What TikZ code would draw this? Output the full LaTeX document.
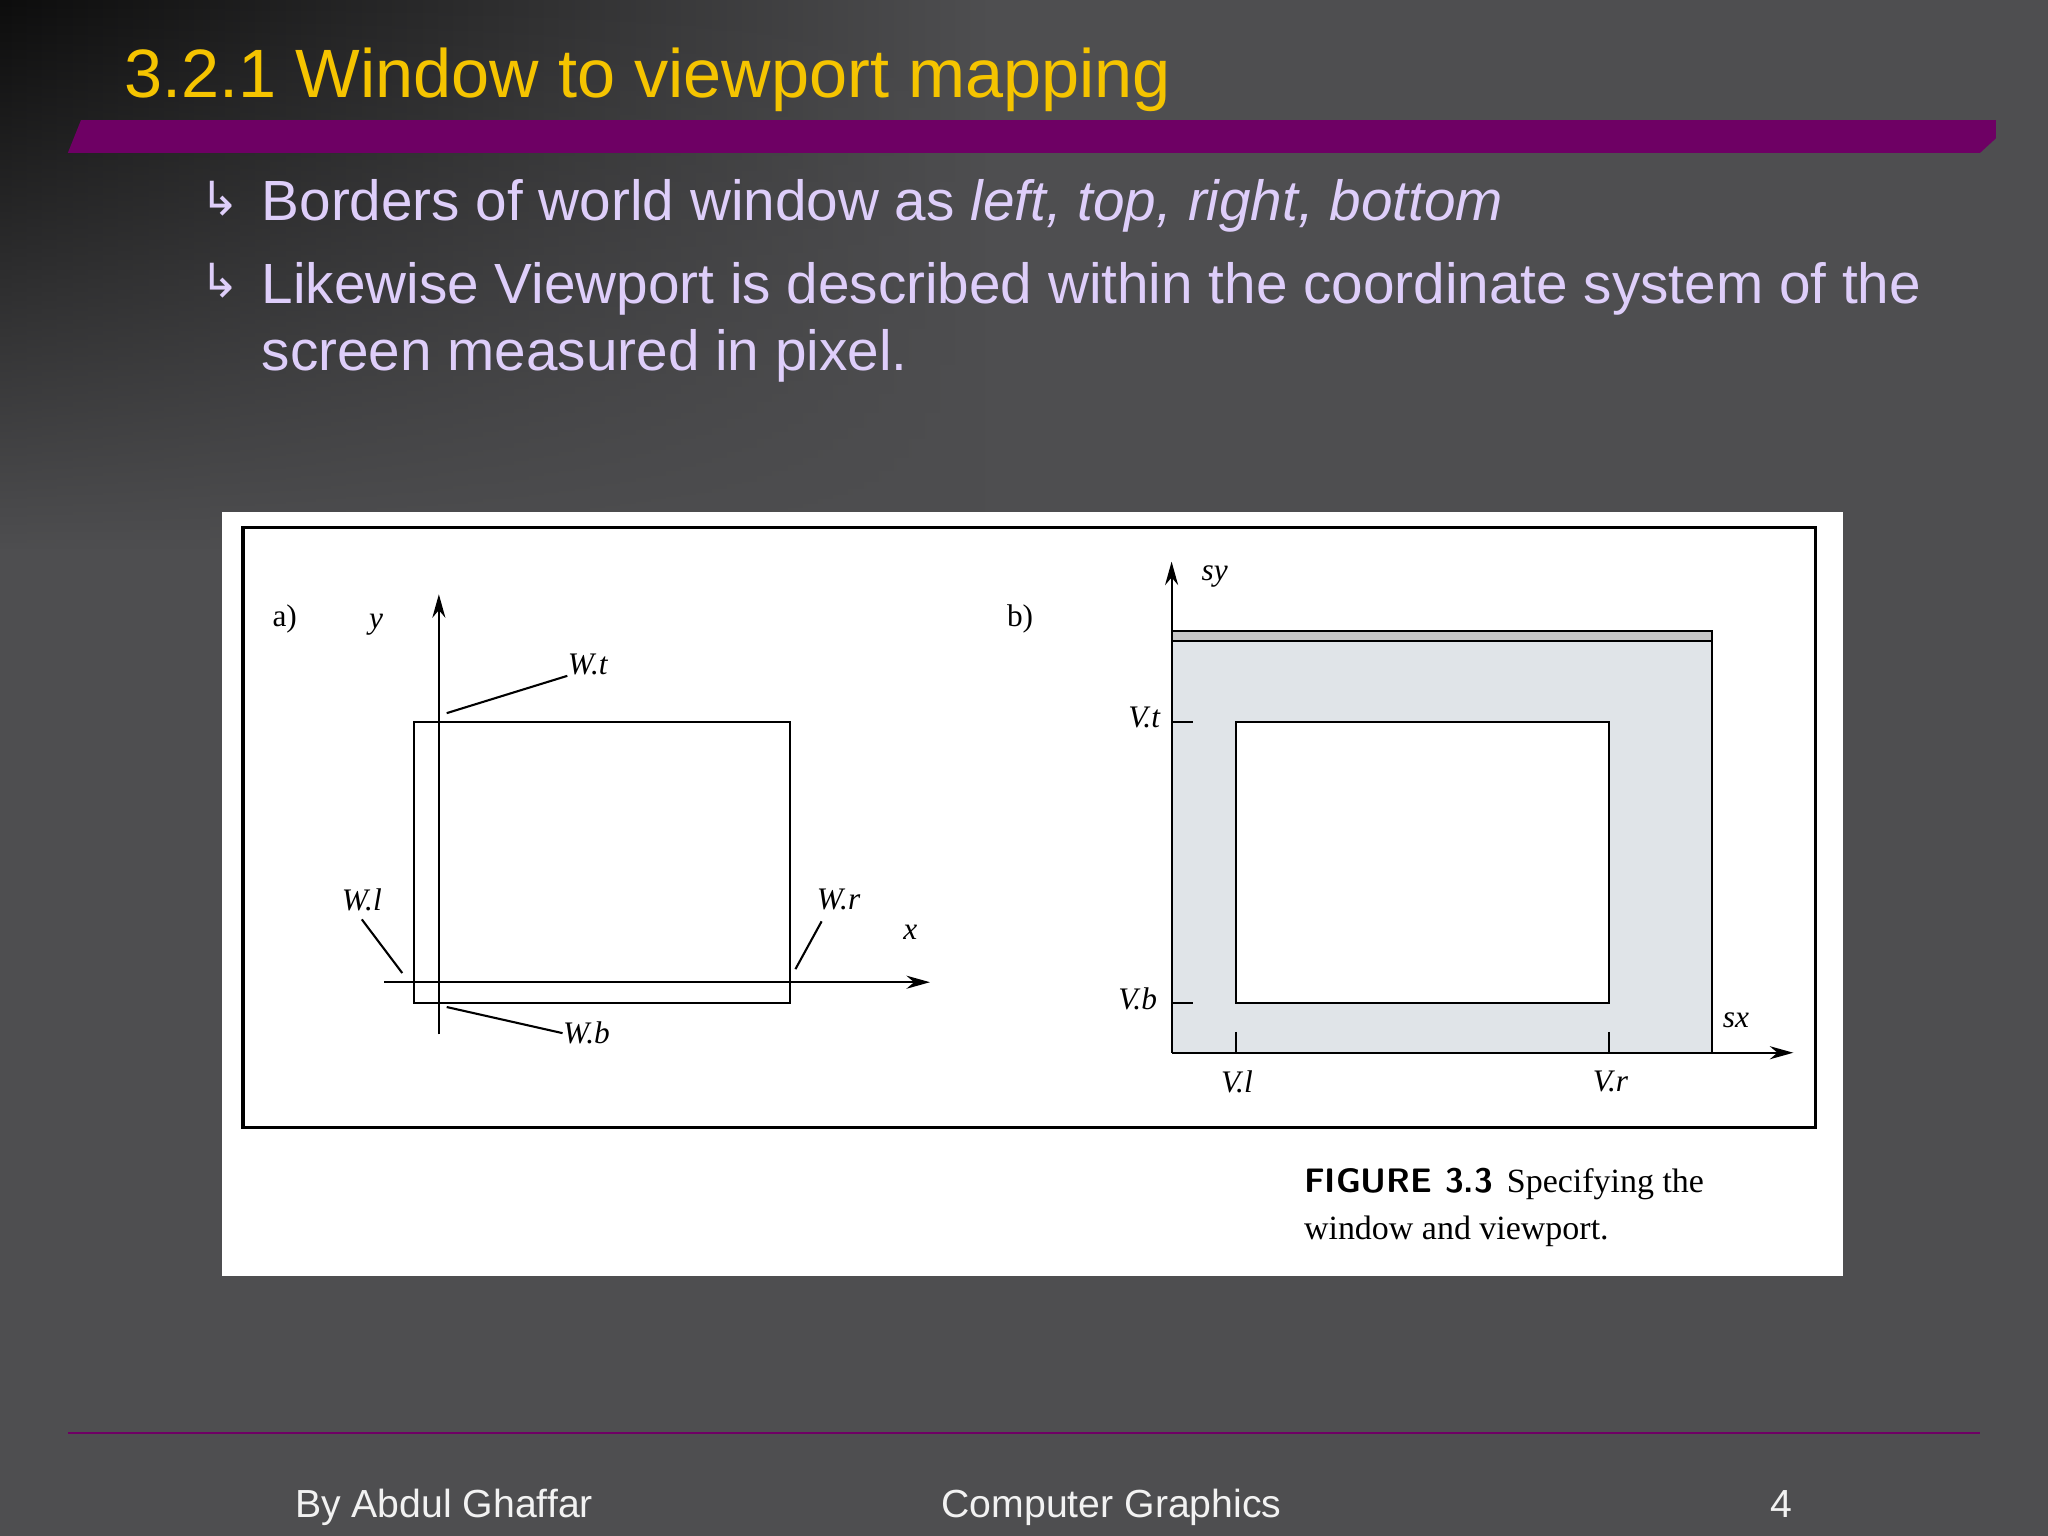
\documentclass[tikz,border=0pt]{standalone}
\usepackage{fontspec}
\setmainfont{Liberation Sans}
\newfontfamily\djv{DejaVu Sans}
\newfontfamily\serf{Liberation Serif}
\usetikzlibrary{fadings,arrows.meta}
\definecolor{bg}{RGB}{78,78,80}
\definecolor{ttl}{RGB}{245,196,0}
\definecolor{lav}{RGB}{222,206,250}
\definecolor{purp}{RGB}{110,0,100}
\definecolor{pgray}{RGB}{224,228,232}
\tikzset{lbl/.style={font=\serf\itshape\fontsize{12}{14}\selectfont,inner sep=0pt},
 ln/.style={line width=0.8pt},
 ax/.style={line width=0.8pt,-{Stealth[length=9pt,width=5pt]}},
 bul/.style={anchor=base west,inner sep=0pt,text=lav,font=\fontsize{21.7}{25}\selectfont},
 foot/.style={anchor=base,inner sep=0pt,text=white!90!gray,font=\fontsize{15}{18}\selectfont}}
\begin{document}
\begin{tikzpicture}[x=0.5pt,y=-0.5pt]
\useasboundingbox (0,0) rectangle (1568,1176);
\fill[bg] (0,0) rectangle (1568,1176);
\shade[left color=black!95,right color=bg,path fading=south] (0,0) rectangle (760,420);
% title
\node[anchor=base west,inner sep=0pt,text=ttl,font=\fontsize{26.2}{30}\selectfont] (title) at (95,75) {3.2.1 Window to viewport mapping};
\fill[purp] (52,117) -- (62,92) -- (1528,92) -- (1528,106) -- (1516,117) -- cycle;
% bullets
\node[bul,font=\djv\fontsize{18}{22}\selectfont] (b1) at (153,165) {↳};
\node[bul] (t1) at (200,169) {Borders of world window as \textit{left, top, right, bottom}};
\node[bul,font=\djv\fontsize{18}{22}\selectfont] (b2) at (153,228) {↳};
\node[bul] (t2) at (200,232) {Likewise Viewport is described within the coordinate system of the};
\node[bul] (t3) at (200,284) {screen measured in pixel.};
% figure panel
\fill[white] (170,392) rectangle (1411,977);
\draw[line width=1.2pt] (186,404) rectangle (1390,863);
% panel a
\node[lbl,font=\serf\fontsize{12}{14}\selectfont] (la) at (218,474) {a)};
\node[lbl] (ly) at (288,478) {y};
\coordinate (yb) at (336,792); \coordinate (yt) at (336,455);
\draw[ax] (yb) -- (yt);
\coordinate (xl) at (294,752); \coordinate (xr) at (712,752);
\draw[ax] (xl) -- (xr);
\node[lbl] (lx) at (697,714) {x};
\draw[ln] (317,553) rectangle (605,768);
\node[lbl] (wt) at (450,509) {W.t};
\node[lbl] (wl) at (277,689) {W.l};
\node[lbl] (wr) at (642,689) {W.r};
\node[lbl] (wb) at (449,791) {W.b};
\coordinate (wt1) at (342,546); \draw[ln] (wt1) -- (wt.south west);
\coordinate (wl1) at (308,745); \draw[ln] (wl.south) ++(0,6) -- (wl1);
\coordinate (wr1) at (609,742); \draw[ln] (wr.south west) ++(4,8) -- (wr1);
\coordinate (wb1) at (342,771); \draw[ln] (wb1) -- (wb.west);
% panel b
\node[lbl,font=\serf\fontsize{12}{14}\selectfont] (lb) at (781,474) {b)};
\fill[pgray] (897,483) rectangle (1311,806);
\fill[gray!45] (897,483) rectangle (1311,491);
\draw[ln] (897,491) -- (1311,491);
\draw[ln] (897,483) -- (1311,483) -- (1311,806);
\draw[ln,fill=white] (946,553) rectangle (1232,768);
\coordinate (sb) at (897,806); \coordinate (st) at (897,430);
\draw[ax] (sb) -- (st);
\node[lbl] (lsy) at (930,441) {sy};
\coordinate (sxr) at (1373,806);
\draw[ax] (sb) -- (sxr);
\node[lbl] (lsx) at (1329,781) {sx};
\draw[ln] (897,553) -- (913,553); \draw[ln] (897,768) -- (913,768);
\draw[ln] (946,790) -- (946,806); \draw[ln] (1232,790) -- (1232,806);
\node[lbl] (vt) at (876,549) {V.t};
\node[lbl] (vb) at (871,765) {V.b};
\node[lbl] (vl) at (947,828) {V.l};
\node[lbl] (vr) at (1233,828) {V.r};
\node[anchor=base west,inner sep=0pt,font=\serf\fontsize{13}{15}\selectfont] (cap1) at (998,913) {\textbf{\sffamily FIGURE 3.3}\, Specifying the};
\node[anchor=base west,inner sep=0pt,font=\serf\fontsize{13}{15}\selectfont] (cap2) at (998,949) {window and viewport.};
% footer
\draw[purp,line width=0.8pt] (52,1097) -- (1516,1097);
\node[foot] (f1) at (340,1162) {By Abdul Ghaffar};
\node[foot] (f2) at (851,1162) {Computer Graphics};
\node[foot] (f3) at (1364,1162) {4};
\end{tikzpicture}
\end{document}
